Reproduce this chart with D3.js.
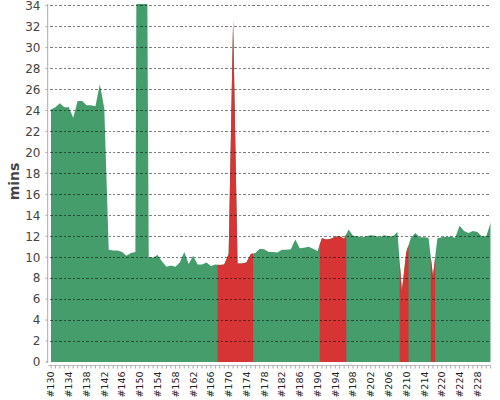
<!DOCTYPE html>
<html><head><meta charset="utf-8">
<script src="https://cdn.jsdelivr.net/npm/d3@7"></script>
<style>html,body{margin:0;padding:0;background:#fff;}svg{display:block;font-family:"DejaVu Sans",sans-serif;}</style>
</head><body>
<svg id="c" width="500" height="400"></svg>
<script>
const builds = ["#130","#131","#132","#133","#134","#135","#136","#137","#138","#139",
"#140","#141","#142","#143","#144","#145","#146","#147","#148","#149",
"#150","#151","#152","#153","#154","#155","#156","#157","#158","#159",
"#160","#161","#162","#163","#164","#165","#166","#167","#168","#169",
"#170","#171","#172","#173","#174","#175","#176","#177","#178","#179",
"#180","#181","#182","#183","#184","#185","#186","#187","#188","#189",
"#190","#191","#192","#193","#194","#195","#196","#197","#198","#199",
"#200","#201","#202","#203","#204","#205","#206","#207","#208","#209",
"#210","#211","#212","#213","#214","#215","#216","#217","#220","#221",
"#222","#223","#224","#225","#226","#227","#228","#229","#230","#231"];
const minutes = [24.1,24.3,24.7,24.3,24.3,23.3,24.9,24.9,24.5,24.5,
24.4,26.5,24.2,10.7,10.65,10.65,10.5,10.15,10.4,10.5,
120,90,10.0,9.98,10.2,9.6,9.1,9.2,9.1,9.5,
10.5,9.35,10.15,9.3,9.3,9.5,9.15,9.3,9.25,9.3,
10.3,32.6,9.4,9.4,9.5,10.3,10.4,10.8,10.75,10.5,
10.5,10.45,10.7,10.7,10.75,11.7,10.85,10.9,11.0,10.8,
10.6,11.8,11.7,11.75,11.95,12.0,11.75,12.65,12.05,12.0,
11.9,12.0,12.1,12.05,11.9,12.1,12.0,12.0,12.4,6.8,
10.5,11.8,12.3,11.9,11.9,11.85,8.2,11.8,11.9,11.95,
11.95,11.85,13.0,12.5,12.3,12.5,12.4,12.0,12.0,13.3];
const failed = ["#168","#169","#170","#171","#172","#173","#174","#175",
"#191","#192","#193","#194","#195","#196","#209","#210","#216"];
const yTicks = d3.range(0, 35, 2);

const svg = d3.select("#c");
const x = d3.scalePoint().domain(builds).range([51, 490.7]);
const y = d3.scaleLinear().domain([0, 34.16]).range([362, 4]);

svg.append("defs").append("clipPath").attr("id","plot")
  .append("rect").attr("x",51).attr("y",y(34.16)).attr("width",490.7-51).attr("height",y(0)-y(34.16));

const area = d3.area().x(d=>d.x).y0(y(0)).y1(d=>y(d.v));
const g = svg.append("g").attr("clip-path","url(#plot)");

// full area (success colour)
const all = builds.map((b,i)=>({x:x(b), v:minutes[i]}));
g.append("path").attr("d", area(all)).attr("fill","#459d6c");

// runs of failed builds, each spanning half a category either side
const runs = [];
builds.forEach((b,i)=>{
  if(!failed.includes(b)) return;
  const last = runs[runs.length-1];
  if(last && last.end === i-1) last.end = i; else runs.push({start:i, end:i});
});
runs.forEach(r=>{
  const pts = [];
  const i0 = r.start, i1 = r.end;
  if(i0>0) pts.push({x:(x(builds[i0-1])+x(builds[i0]))/2, v:(minutes[i0-1]+minutes[i0])/2});
  for(let i=i0;i<=i1;i++) pts.push({x:x(builds[i]), v:minutes[i]});
  if(i1<builds.length-1) pts.push({x:(x(builds[i1+1])+x(builds[i1]))/2, v:(minutes[i1+1]+minutes[i1])/2});
  g.append("path").attr("d", area(pts)).attr("fill","#d63435");
});

// gridlines
svg.append("g").selectAll("line").data(yTicks.filter(t=>t>0)).join("line")
  .attr("x1",50).attr("x2",490.7).attr("y1",d=>y(d)).attr("y2",d=>y(d))
  .attr("stroke","rgba(0,0,0,0.5)").attr("stroke-width",1).attr("stroke-dasharray","2.5,2")
  .attr("shape-rendering","crispEdges");

// y axis
svg.append("line").attr("x1",47.7).attr("x2",47.7).attr("y1",y(34.16)).attr("y2",y(0)+1)
  .attr("stroke","#aaa");
svg.append("g").selectAll("text").data(yTicks).join("text")
  .attr("x",40.5).attr("y",d=>y(d)).attr("dy","0.36em").attr("text-anchor","end")
  .attr("font-size","12px").attr("fill","#444").text(d=>d);
svg.append("g").selectAll("line").data(yTicks).join("line")
  .attr("x1",45.5).attr("x2",47.7).attr("y1",d=>y(d)).attr("y2",d=>y(d)).attr("stroke","#aaa");

// x axis
svg.append("line").attr("x1",48).attr("x2",491).attr("y1",365.5).attr("y2",365.5).attr("stroke","#bbb");
svg.append("g").selectAll("line").data(builds).join("line")
  .attr("x1",d=>x(d)).attr("x2",d=>x(d)).attr("y1",365.5).attr("y2",368.5).attr("stroke","#aaa");
svg.append("g").selectAll("text").data(builds.filter((b,i)=>i%4===0)).join("text")
  .attr("transform",d=>`translate(${x(d)},371.5) rotate(-90)`)
  .attr("dy","0.36em").attr("text-anchor","end")
  .attr("font-size","9.5px").attr("fill","#222").text(d=>d);

// y label
svg.append("text").attr("transform","translate(18.5,181.5) rotate(-90)")
  .attr("text-anchor","middle").attr("font-size","14px").attr("font-weight","bold")
  .attr("fill","#444").text("mins");
</script>
</body></html>
